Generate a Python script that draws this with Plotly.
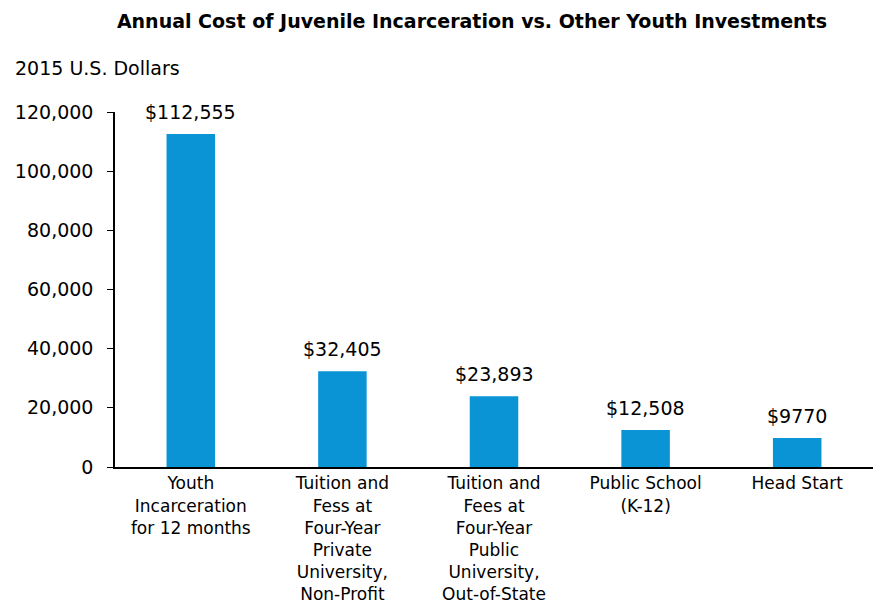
import plotly.graph_objects as go

categories = [
    "Youth<br>Incarceration<br>for 12 months",
    "Tuition and<br>Fess at<br>Four-Year<br>Private<br>University,<br>Non-Profit",
    "Tuition and<br>Fees at<br>Four-Year<br>Public<br>University,<br>Out-of-State",
    "Public School<br>(K-12)",
    "Head Start",
]
values = [112555, 32405, 23893, 12508, 9770]
value_labels = ["$112,555", "$32,405", "$23,893", "$12,508", "$9770"]
tick_vals = [0, 20000, 40000, 60000, 80000, 100000, 120000]
tick_text = ["0", "20,000", "40,000", "60,000", "80,000", "100,000", "120,000"]

font_family = "DejaVu Sans, Arial, sans-serif"

fig = go.Figure(
    go.Bar(
        x=categories,
        y=values,
        marker=dict(color="#0A94D6", line=dict(width=0)),
        width=0.32,
        hoverinfo="x+y",
    )
)

annotations = [
    dict(
        x=c,
        y=v,
        xref="x",
        yref="y",
        text=t,
        showarrow=False,
        yanchor="bottom",
        yshift=9,
        font=dict(size=19, family=font_family, color="black"),
    )
    for c, v, t in zip(categories, values, value_labels)
]
annotations.append(
    dict(
        text="2015 U.S. Dollars",
        xref="paper",
        yref="paper",
        x=-102 / 758,
        y=1.125,
        xanchor="left",
        yanchor="middle",
        showarrow=False,
        font=dict(size=19, family=font_family, color="black"),
    )
)

fig.update_layout(
    width=874,
    height=604,
    margin=dict(l=115, r=1, t=112, b=137),
    paper_bgcolor="white",
    plot_bgcolor="white",
    font=dict(family=font_family, size=19, color="black"),
    showlegend=False,
    title=dict(
        text="<b>Annual Cost of Juvenile Incarceration vs. Other Youth Investments</b>",
        x=0.54,
        xanchor="center",
        y=0.965,
        yanchor="middle",
        font=dict(size=19, family=font_family, color="black"),
    ),
    annotations=annotations,
)

fig.update_yaxes(
    range=[0, 120000],
    tickvals=tick_vals,
    ticktext=tick_text,
    showgrid=False,
    zeroline=False,
    showline=True,
    linecolor="black",
    linewidth=1.5,
    ticks="outside",
    ticklen=6,
    tickcolor="black",
    tickfont=dict(size=19),
    ticklabelstandoff=10,
)
fig.update_xaxes(
    showgrid=False,
    showline=True,
    linecolor="black",
    linewidth=2,
    ticks="",
    tickfont=dict(size=17),
    tickangle=0,
)

fig.write_html("out.html")
